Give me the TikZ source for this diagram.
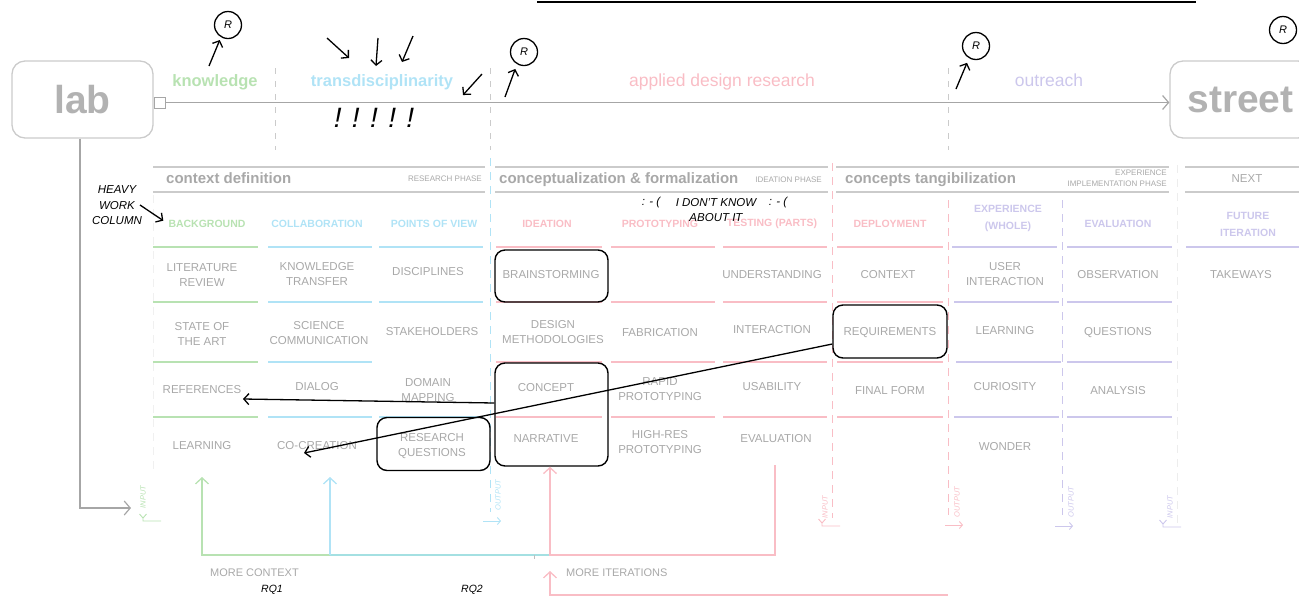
\documentclass[tikz,border=0pt]{standalone}
\usepackage{fontspec}
\setmainfont{Liberation Sans}
\usetikzlibrary{arrows.meta}

\definecolor{verde}{HTML}{B8E2B2}
\definecolor{azzurro}{HTML}{B0E3F6}
\definecolor{acqua}{HTML}{A4E0E2}
\definecolor{rosa}{HTML}{F9BDC5}
\definecolor{lilla}{HTML}{CCC7EC}
\definecolor{grigio}{HTML}{A8A8A8}
\definecolor{linea}{HTML}{CBCBCB}

\tikzset{
  capo/.style={draw=linea, line width=1.3pt, rounded corners=13pt, minimum width=141pt, minimum height=77pt, inner sep=0pt, text=black!30, font=\fontsize{39}{40}\selectfont\bfseries},
  banda/.style={anchor=base, inner sep=0pt, font=\fontsize{16.5}{18}\selectfont\bfseries},
  bandasottile/.style={anchor=base, inner sep=0pt, font=\fontsize{17.5}{19}\selectfont},
  fase/.style={anchor=base west, inner sep=0pt, text=grigio, font=\fontsize{15}{17}\selectfont\bfseries},
  sigla/.style={inner sep=0pt, text=grigio, align=right, font=\fontsize{8}{10.5}\selectfont},
  titolo/.style={inner sep=0pt, align=center, font=\fontsize{10.5}{17}\selectfont\bfseries},
  cella/.style={inner sep=0pt, align=center, text=grigio, font=\fontsize{11.5}{15}\selectfont},
  nota/.style={inner sep=0pt, align=center, font=\fontsize{11.5}{15.5}\selectfont\itshape},
  io/.style={inner sep=0pt, rotate=90, font=\fontsize{7.5}{8}\selectfont\itshape},
  scatola/.style={draw, line width=1.4pt, rounded corners=10pt},
  erre/.style={draw, circle, line width=1.3pt, minimum size=27pt, inner sep=0pt, font=\fontsize{11}{12}\selectfont\itshape},
  freccia/.style={-{Straight Barb[length=5pt,width=11pt]}, line width=1.3pt},
  grigiafreccia/.style={draw=black!35, line width=1.2pt, -{Straight Barb[length=6pt,width=14pt]}},
  flusso/.style={line width=1.3pt},
  tratto/.style={line width=1pt, dash pattern=on 8pt off 6pt},
}

\begin{document}
\begin{tikzpicture}[x=1pt, y=-1pt]
    \useasboundingbox (0,0) rectangle (1299,598);

    % linea nera in alto
    \coordinate (nA) at (537,2);
    \coordinate (nB) at (1196,2);
    \draw[line width=1.5pt] (nA) -- (nB);

    % lab e street
    \node[capo] (lab) at (82.5,99.5) {lab};
    \node[capo] (street) at (1240.5,99.5) {street};
    \node[draw=black!35, line width=1pt, minimum size=11pt, inner sep=0pt, anchor=west] (porta) at ([yshift=-3pt]lab.east) {};
    \draw[grigiafreccia] (porta.east) -- (porta.east -| street.west);
    \coordinate (gomito) at (80,508);
    \coordinate (ingresso) at (131,508);
    \draw[grigiafreccia] (lab.south -| gomito) -- (gomito) -- (ingresso);

    % separatori in alto
    \foreach \x in {275,490,948} \draw[linea, line width=1pt, dash pattern=on 6pt off 7pt] (\x,68) -- (\x,150);

    % nomi delle fasi
    \node[banda, text=verde] (know) at (215,86) {knowledge};
    \node[banda, text=azzurro] (trans) at (382,86) {transdisciplinarity};
    \node[bandasottile, text=rosa] (adr) at (722,86) {applied design research};
    \node[bandasottile, text=lilla] (outr) at (1049,86) {outreach};

    % cerchi R e frecce a mano
    \node[erre] (r1) at (228,25) {R};
    \node[erre] (r2) at (524,52) {R};
    \node[erre] (r3) at (976,46) {R};
    \node[erre] (r4) at (1283,30) {R};
    \coordinate (c1) at (209,66);
    \coordinate (c2) at (505,97);
    \coordinate (c3) at (956,89);
    \draw[freccia, shorten >=3pt] (c1) -- (r1.240);
    \draw[freccia, shorten >=5pt] (c2) -- (r2.240);
    \draw[freccia, shorten >=5pt] (c3) -- (r3.240);
    \foreach \a/\b/\c/\d [count=\i] in {327/38/349/58, 378/38/376/66, 413/36/402/62, 482/74/463/95} {
        \coordinate (m\i) at (\a,\b);
        \coordinate (n\i) at (\c,\d);
        \draw[freccia] (m\i) -- (n\i);
    }
    \node[nota, font=\fontsize{28}{30}\selectfont\itshape] (escl) at (374,118) {! ! ! ! !};

    % intestazioni delle fasi
    \foreach \a/\b in {153/485, 495/828, 836/1169, 1185/1310} {
        \draw[linea, line width=1.5pt] (\a,167) -- (\b,167);
        \draw[linea, line width=1.5pt] (\a,192) -- (\b,192);
    }
    \node[fase] (contesto) at (166,183) {context definition};
    \node[sigla, anchor=base east] (ricerca) at (482,181) {RESEARCH PHASE};
    \node[fase] (concett) at (499,183) {conceptualization \& formalization};
    \node[sigla, anchor=base east] (ideaz) at (822,182) {IDEATION PHASE};
    \node[fase] (tangib) at (845,183) {concepts tangibilization};
    \node[sigla, anchor=east] (implem) at (1167,178) {EXPERIENCE\\IMPLEMENTATION PHASE};
    \node[cella] (next) at (1247,179) {NEXT};

    % linee sotto le celle
    \foreach \a/\b/\c in {153/258/verde, 268/372/azzurro, 379/483/azzurro, 496/602/rosa, 611/715/rosa, 723/827/rosa, 837/943/rosa, 952/1057/lilla, 1067/1172/lilla, 1186/1310/lilla}
        \draw[color=\c, line width=1.6pt] (\a,247) -- (\b,247);
    \foreach \a/\b/\c in {153/258/verde, 268/372/azzurro, 379/483/azzurro, 496/602/rosa, 611/715/rosa, 723/827/rosa, 837/943/rosa, 954/1059/lilla, 1067/1172/lilla}
        \foreach \y in {302,417}
            \draw[color=\c, line width=1.6pt] (\a,\y) -- (\b,\y);
    \foreach \a/\b/\c in {153/258/verde, 268/372/azzurro, 496/602/rosa, 611/715/rosa, 723/827/rosa, 837/943/rosa, 956/1061/lilla, 1067/1172/lilla}
        \draw[color=\c, line width=1.6pt] (\a,362) -- (\b,362);

    % tratteggi verticali
    \draw[tratto, color=black!6] (153,195) -- (153,470);
    \draw[tratto, color=azzurro] (490,158) -- (490,512);
    \draw[tratto, color=rosa] (832,163) -- (832,518);
    \draw[tratto, color=rosa] (948,200) -- (948,515);
    \draw[tratto, color=lilla] (1062,200) -- (1062,515);
    \draw[tratto, color=black!7] (1177,165) -- (1177,525);

    % titoli delle colonne
    \node[titolo, text=verde] (sfondo) at (207,224) {BACKGROUND};
    \node[titolo, text=azzurro] (collab) at (317,224) {COLLABORATION};
    \node[titolo, text=azzurro] (punti) at (434,224) {POINTS OF VIEW};
    \node[titolo, text=rosa] (idea) at (547,224) {IDEATION};
    \node[titolo, text=rosa] (proto) at (660,224) {PROTOTYPING};
    \node[titolo, text=rosa] (test) at (772,224) {TESTING (PARTS)};
    \node[titolo, text=rosa] (deploy) at (890,224) {DEPLOYMENT};
    \node[titolo, text=lilla] (esper) at (1008,218.5) {EXPERIENCE\\(WHOLE)};
    \node[titolo, text=lilla] (valu) at (1118,224) {EVALUATION};
    \node[titolo, text=lilla] (futuro) at (1248,224) {FUTURE\\ITERATION};

    % celle, riga 1
    \node[cella] (lett) at (202,275.5) {LITERATURE\\REVIEW};
    \node[cella] (cono) at (317,274) {KNOWLEDGE\\TRANSFER};
    \node[cella] (disc) at (428,272) {DISCIPLINES};
    \node[cella] (brain) at (551,275) {BRAINSTORMING};
    \node[cella] (capire) at (772,275) {UNDERSTANDING};
    \node[cella] (ctx) at (888,275) {CONTEXT};
    \node[cella] (utente) at (1005,274.5) {USER\\INTERACTION};
    \node[cella] (oss) at (1118,275) {OBSERVATION};
    \node[cella] (take) at (1241,275) {TAKEWAYS};

    % riga 2
    \node[cella] (arte) at (202,333.5) {STATE OF\\THE ART};
    \node[cella] (scienza) at (319,333.5) {SCIENCE\\COMMUNICATION};
    \node[cella] (stake) at (432,332) {STAKEHOLDERS};
    \node[cella] (metodi) at (553,332.5) {DESIGN\\METHODOLOGIES};
    \node[cella] (fabb) at (660,333) {FABRICATION};
    \node[cella] (inter) at (772,330) {INTERACTION};
    \node[cella] (req) at (890,333) {REQUIREMENTS};
    \node[cella] (appr) at (1005,331) {LEARNING};
    \node[cella] (domande) at (1118,333) {QUESTIONS};

    % riga 3
    \node[cella] (rif) at (202,390) {REFERENCES};
    \node[cella] (dialogo) at (317,387) {DIALOG};
    \node[cella] (mappa) at (428,390.5) {DOMAIN\\MAPPING};
    \node[cella] (concetto) at (546,388) {CONCEPT};
    \node[cella] (rapido) at (660,389) {RAPID\\PROTOTYPING};
    \node[cella] (usab) at (772,387) {USABILITY};
    \node[cella] (forma) at (890,391) {FINAL FORM};
    \node[cella] (curio) at (1005,387) {CURIOSITY};
    \node[cella] (analisi) at (1118,391) {ANALYSIS};

    % riga 4
    \node[cella] (impara) at (202,446) {LEARNING};
    \node[cella] (cocrea) at (317,446) {CO-CREATION};
    \node[cella] (rq) at (432,446.5) {RESEARCH\\QUESTIONS};
    \node[cella] (narr) at (546,439) {NARRATIVE};
    \node[cella] (hires) at (660,442.5) {HIGH-RES\\PROTOTYPING};
    \node[cella] (valut) at (776,439) {EVALUATION};
    \node[cella] (meravi) at (1005,447) {WONDER};

    % riquadri neri
    \node[scatola, minimum width=113pt, minimum height=52pt] (bbrain) at (551.5,276) {};
    \node[scatola, minimum width=113pt, minimum height=103pt] (bconc) at (551.5,414.5) {};
    \node[scatola, minimum width=113pt, minimum height=53pt] (brq) at (433.5,444) {};
    \node[scatola, minimum width=114pt, minimum height=53pt] (breq) at (890,331.5) {};

    % frecce nere
    \coordinate (punta1) at (243,399);
    \coordinate (punta2) at (304,453);
    \draw[freccia] ([yshift=11.5pt]bconc.west) -- (punta1);
    \draw[freccia] ([yshift=-12.5pt]breq.west) -- (punta2);

    % note a mano
    \node[nota] (heavy) at (117,205.5) {HEAVY\\WORK\\COLUMN};
    \coordinate (hv) at (140,205);
    \draw[freccia, shorten >=6pt] (hv) -- (sfondo.west);
    \node[nota] (triste1) at (651,203) {: - (};
    \node[nota] (nonso) at (716,210) {I DON'T KNOW\\ABOUT IT};
    \node[nota] (triste2) at (778,203) {: - (};

    % input e output
    \node[io, text=verde] (in1) at (143,497) {INPUT};
    \node[io, text=azzurro] (out1) at (498,495) {OUTPUT};
    \node[io, text=rosa] (in2) at (825,507) {INPUT};
    \node[io, text=rosa] (out2) at (957,502) {OUTPUT};
    \node[io, text=lilla] (out3) at (1071,502) {OUTPUT};
    \node[io, text=lilla] (in3) at (1170,507) {INPUT};
    \foreach \x/\y/\c in {143/521/verde, 822/526/rosa, 1163/527/lilla}
        \draw[color=\c, line width=0.9pt] (\x-3.5,\y-7) -- (\x,\y-3) -- (\x+3.5,\y-7) (\x,\y-3) -- (\x,\y) -- (\x+18,\y);
    \foreach \x/\y/\c in {483/521/azzurro, 945/525/rosa, 1055/526/lilla}
        \draw[color=\c, line width=0.9pt, -{Straight Barb[length=3pt,width=7pt]}] (\x,\y) -- (\x+18,\y);

    % flussi in basso
    \coordinate (vs) at (202,477);
    \coordinate (vg) at (202,555);
    \coordinate (as) at (330,477);
    \coordinate (ag) at (330,555);
    \coordinate (rg) at (550,555);
    \coordinate (rd) at (775,555);
    \coordinate (rt) at (775,465);
    \draw[flusso, color=verde, {Straight Barb[length=6pt,width=13pt]}-] (vs) -- (vg) -- (ag);
    \draw[flusso, color=acqua] (ag) -- (rg);
    \draw[flusso, color=azzurro, {Straight Barb[length=6pt,width=13pt]}-] (as) -- (ag);
    \draw[flusso, color=rosa, {Straight Barb[length=6pt,width=13pt]}-] (bconc.south -| rg) -- (rg) -- (rd) -- (rt);
    \draw[black!25, line width=0.8pt] (534,555) -- (534,559);
    \coordinate (ls) at (550,571);
    \coordinate (lb) at (550,595);
    \coordinate (ld) at (948,595);
    \draw[flusso, color=rosa, -{Straight Barb[length=6pt,width=13pt]}] (ld) -- (lb) -- (ls);

    % etichette in basso
    \node[cella, anchor=west, font=\fontsize{11}{12}\selectfont] (piuctx) at (210,573) {MORE CONTEXT};
    \node[cella, anchor=west, font=\fontsize{11}{12}\selectfont] (piuit) at (566,573) {MORE ITERATIONS};
    \node[nota, font=\fontsize{10.5}{12}\selectfont\itshape] (rq1) at (272,590) {RQ1};
    \node[nota, font=\fontsize{10.5}{12}\selectfont\itshape] (rq2) at (472,590) {RQ2};
\end{tikzpicture}
\end{document}
